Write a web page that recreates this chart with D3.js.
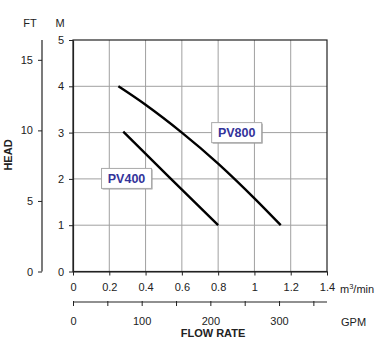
<!DOCTYPE html>
<html><head><meta charset="utf-8">
<script src="https://cdn.jsdelivr.net/npm/d3@7"></script>
<style>
html,body{margin:0;padding:0;background:#fff;}
svg text{font-family:"Liberation Sans",Arial,sans-serif;}
</style></head>
<body>
<svg id="c" width="379" height="338"></svg>
<script>
// Data
const flowTicks = [0, 0.2, 0.4, 0.6, 0.8, 1, 1.2, 1.4];
const gpmTicks = [0, 50, 100, 150, 200, 250, 300, 350];
const gpmLabels = [0, 100, 200, 300];
const mTicks = [0, 1, 2, 3, 4, 5];
const ftTicks = [0, 5, 10, 15];
const pv800Flow = [0.25, 0.40, 0.60, 0.80, 1.0, 1.145];
const pv800Head = [4.0, 3.6, 3.0, 2.33, 1.58, 1.0];
const pv400Flow = [0.277, 0.53, 0.80];
const pv400Head = [3.02, 2.04, 1.0];
const seriesNames = ["PV800", "PV400"];
const labelPos = [[0.902, 3.0], [0.295, 2.01]]; // data coords of label centers

const svg = d3.select("#c");
const L = 73, R = 327, T = 40, B = 271.5;
const x = d3.scaleLinear().domain([0, 1.4]).range([L, R]);
const y = d3.scaleLinear().domain([0, 5]).range([B, T]);
const yFt = d3.scaleLinear().domain([0, 5 * 3.28084]).range([B, T]);
const xGpm = d3.scaleLinear().domain([0, 1.4 / 0.00378541]).range([L, R]);

// grid
const g = svg.append("g");
g.selectAll("line.vx").data(flowTicks.slice(1, -1)).join("line")
  .attr("x1", d => x(d)).attr("x2", d => x(d)).attr("y1", T).attr("y2", B)
  .attr("stroke", "#a0a0a0").attr("stroke-width", 1);
g.selectAll("line.hy").data(mTicks.slice(1, -1)).join("line")
  .attr("x1", L).attr("x2", R).attr("y1", d => y(d)).attr("y2", d => y(d))
  .attr("stroke", "#a0a0a0").attr("stroke-width", 1);
// frame
svg.append("rect").attr("x", L).attr("y", T).attr("width", R - L).attr("height", B - T)
  .attr("fill", "none").attr("stroke", "#222").attr("stroke-width", 1.2);

const font = "11px";
function styleAxis(sel) {
  sel.selectAll("path.domain").attr("stroke", "#222").attr("stroke-width", 1.2);
  sel.selectAll(".tick line").attr("stroke", "#222");
  sel.selectAll(".tick text").attr("fill", "#222").style("font-size", font)
    .style("font-family", '"Liberation Sans",Arial,sans-serif');
}

// M axis
const ay = svg.append("g").attr("transform", `translate(${L},0)`)
  .call(d3.axisLeft(y).tickValues(mTicks).tickFormat(d3.format("d")).tickSize(4).tickSizeOuter(0).tickPadding(5));
styleAxis(ay);
// FT axis
const aft = svg.append("g").attr("transform", `translate(42,0)`)
  .call(d3.axisLeft(yFt).tickValues(ftTicks).tickFormat(d3.format("d")).tickSize(4).tickSizeOuter(0).tickPadding(5));
styleAxis(aft);
aft.select("path.domain").attr("d", `M0,${T}V${B}`);

// bottom m3/min axis
const ax = svg.append("g").attr("transform", `translate(0,${B})`)
  .call(d3.axisBottom(x).tickValues(flowTicks).tickFormat(d => d === 0 ? "0" : d3.format("~g")(d)).tickSize(4).tickSizeOuter(0).tickPadding(8));
styleAxis(ax);

// GPM axis
const GY = 302;
const ag = svg.append("g").attr("transform", `translate(0,${GY})`)
  .call(d3.axisBottom(xGpm).tickValues(gpmTicks).tickFormat(d => gpmLabels.includes(d) ? d : "").tickSize(4).tickSizeOuter(0).tickPadding(11));
styleAxis(ag);
ag.select("path.domain").attr("d", `M${L},0H${R}`);
ag.selectAll(".tick line").attr("y1", -1).attr("y2", 4);

// unit labels
svg.append("text").attr("x", 30).attr("y", 27).attr("text-anchor", "middle").attr("fill", "#222").style("font-size", font).text("FT");
svg.append("text").attr("x", 60).attr("y", 27).attr("text-anchor", "middle").attr("fill", "#222").style("font-size", font).text("M");
const mu = svg.append("text").attr("x", 340).attr("y", 293).attr("fill", "#222").style("font-size", font);
mu.append("tspan").text("m");
mu.append("tspan").attr("dy", -4).style("font-size", "7.5px").text("3");
mu.append("tspan").attr("dy", 4).text("/min");
svg.append("text").attr("x", 341).attr("y", 326).attr("fill", "#222").style("font-size", font).text("GPM");
svg.append("text").attr("x", 213).attr("y", 337).attr("text-anchor", "middle").attr("fill", "#222")
  .style("font-size", "11px").style("font-weight", "bold").text("FLOW RATE");
svg.append("text").attr("transform", "translate(12,155) rotate(-90)").attr("text-anchor", "middle").attr("fill", "#222")
  .style("font-size", "11px").style("font-weight", "bold").text("HEAD");

// curves
const line = d3.line().x(d => x(d[0])).y(d => y(d[1])).curve(d3.curveNatural);
const series = [d3.zip(pv800Flow, pv800Head), d3.zip(pv400Flow, pv400Head)];
svg.selectAll("path.curve").data(series).join("path")
  .attr("d", line).attr("fill", "none").attr("stroke", "#000").attr("stroke-width", 2.4).attr("stroke-linecap", "butt");

// labels
seriesNames.forEach((n, i) => {
  const cx = x(labelPos[i][0]), cy = y(labelPos[i][1]);
  const w = 50, h = 20;
  svg.append("rect").attr("x", cx - w / 2 + 1).attr("y", cy - h / 2 + 1).attr("width", w).attr("height", h).attr("fill", "#999");
  svg.append("rect").attr("x", cx - w / 2).attr("y", cy - h / 2).attr("width", w).attr("height", h)
    .attr("fill", "#fff").attr("stroke", "#aaa").attr("stroke-width", 1);
  svg.append("text").attr("x", cx).attr("y", cy + 4.5).attr("text-anchor", "middle").attr("fill", "#33339a")
    .style("font-size", "12.5px").style("font-weight", "bold").text(n);
});
</script>
</body></html>
